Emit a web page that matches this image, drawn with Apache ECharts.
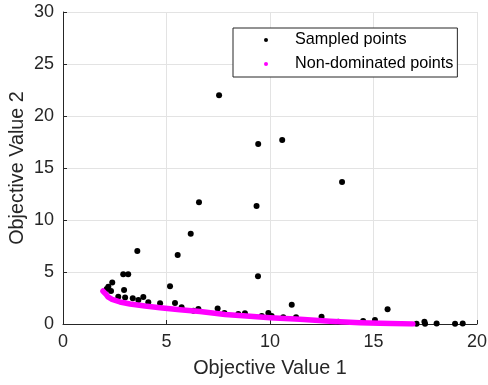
<!DOCTYPE html>
<html>
<head>
<meta charset="utf-8">
<script src="https://cdn.jsdelivr.net/npm/echarts@6/dist/echarts.min.js"></script>
<style>
  html, body { margin: 0; padding: 0; background: #fff; }
  #chart { width: 488px; height: 385px; }
</style>
</head>
<body>
<div id="chart"></div>
<script>
// Sampled objective vectors (objective 1, objective 2)
const sampledObj1 = [7.54, 9.43, 10.59, 13.48, 6.57, 9.35, 6.17, 3.59, 5.54, 9.42,
  2.91, 3.15, 5.17, 2.38, 11.05, 15.68,
  2.19, 2.11, 2.32, 2.95, 2.67, 3.00, 3.37, 3.88, 3.64, 4.12, 4.69, 5.41, 5.73,
  6.30, 6.54, 7.47, 7.80, 8.47, 8.79, 9.60, 9.92, 10.08, 10.64, 11.26, 12.49,
  13.30, 14.50, 15.07, 17.08, 17.46, 17.49, 18.05, 18.94, 19.31];
const sampledObj2 = [22.0, 17.3, 17.7, 13.65, 11.7, 11.35, 8.68, 7.02, 6.63, 4.6,
  4.78, 4.78, 3.62, 4.0, 1.85, 1.41,
  3.59, 3.37, 3.17, 3.27, 2.63, 2.56, 2.47, 2.60, 2.31, 2.08, 1.99, 2.02, 1.60,
  1.28, 1.44, 1.50, 1.05, 0.96, 1.03, 0.77, 1.05, 0.77, 0.64, 0.64, 0.70,
  0.22, 0.29, 0.38, 0.02, 0.22, 0.02, 0.06, 0.02, 0.06];

// Non-dominated front
const frontObj1 = [1.93, 2.08, 2.17, 2.37, 2.75, 3.24, 3.96, 4.69, 5.65, 6.62,
  7.83, 9.03, 10.0, 11.45, 12.9, 14.35, 15.8, 16.9];
const frontObj2 = [3.17, 2.84, 2.60, 2.36, 2.12, 1.92, 1.73, 1.57, 1.38, 1.20,
  0.91, 0.74, 0.61, 0.45, 0.26, 0.13, 0.04, 0.0];

const xTicks = { min: 0, max: 20, interval: 5 };
const yTicks = { min: 0, max: 30, interval: 5 };

const FONT = "'Liberation Sans', Arial, Helvetica, sans-serif";
const INK = '#262626';

const sampled = sampledObj1.map((v, i) => [v, sampledObj2[i]]);
const front = frontObj1.map((v, i) => [v, frontObj2[i]]);

function axis(name, ticks, gap) {
  return {
    type: 'value',
    min: ticks.min, max: ticks.max, interval: ticks.interval,
    name: name, nameLocation: 'middle', nameGap: gap, nameMoveOverlap: false,
    nameTextStyle: { fontFamily: FONT, fontSize: 19.8, color: INK },
    axisLine: { show: true, lineStyle: { color: INK, width: 1 } },
    axisTick: { show: true, inside: true, length: 4, lineStyle: { color: INK } },
    axisLabel: { fontFamily: FONT, fontSize: 18, color: INK, margin: 9 },
    splitLine: { show: true, lineStyle: { color: '#e3e3e3', width: 1 } }
  };
}

const chart = echarts.init(document.getElementById('chart'), null, { renderer: 'canvas' });
chart.setOption({
  animation: false,
  backgroundColor: '#fff',
  grid: {
    left: 63, top: 12, width: 414, height: 312,
    containLabel: false, outerBoundsMode: 'none'
  },
  xAxis: axis('Objective Value 1', xTicks, 35),
  yAxis: axis('Objective Value 2', yTicks, 35),
  legend: {
    orient: 'vertical', left: 233, top: 28,
    padding: [4, 4, 5, 31],
    itemWidth: 4, itemHeight: 4, itemGap: 8,
    borderColor: INK, borderWidth: 1, backgroundColor: '#fff',
    textStyle: { fontFamily: FONT, fontSize: 16.2, color: '#000', padding: [0, 0, 0, 22] },
    data: [
      { name: 'Sampled points', icon: 'circle' },
      { name: 'Non-dominated points', icon: 'circle' }
    ]
  },
  series: [
    {
      name: 'Sampled points', type: 'scatter', data: sampled,
      symbol: 'circle', symbolSize: 6,
      itemStyle: { color: '#000', opacity: 1 }, z: 2
    },
    {
      name: 'Non-dominated points', type: 'line', data: front,
      showSymbol: false, symbol: 'circle', smooth: false,
      lineStyle: { color: '#ff00ff', width: 5.5, cap: 'round', join: 'round' },
      itemStyle: { color: '#ff00ff' }, z: 3
    }
  ]
});
</script>
</body>
</html>
